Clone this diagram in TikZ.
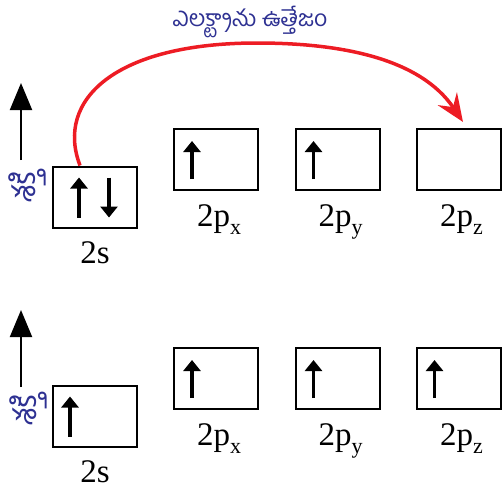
\documentclass[tikz,border=0pt]{standalone}
\usepackage{fontspec}
\setmainfont{Liberation Serif}
\newfontfamily\telugu[Script=Telugu]{Hind Guntur}
\usetikzlibrary{positioning,arrows.meta}
\definecolor{titleblue}{RGB}{46,49,146}
\definecolor{excitered}{RGB}{237,28,36}
\newcommand{\psub}[1]{2p\raisebox{-8pt}{\fontsize{22}{22}\selectfont #1}}

\begin{document}
\begin{tikzpicture}[x=1pt,y=-1pt,
    orbital/.style={draw, line width=2pt, minimum width=84pt, minimum height=61pt, inner sep=0pt},
    lbl/.style={font=\fontsize{33}{33}\selectfont, inner sep=0pt},
    spin/.style={line width=3.3pt, -{Triangle[length=11pt,width=17pt]}},
    energy/.style={line width=2pt, -{Triangle[length=27pt,width=22pt]}},
    tel/.style={text=titleblue, font=\telugu\fontsize{23}{23}\selectfont, inner sep=0pt},
    vtel/.style={tel, rotate=90, font=\telugu\fontsize{31}{31}\selectfont},
    excite/.style={excitered, line width=3.5pt, -{Stealth[length=28pt,width=23pt,inset=10pt]}}
]
\useasboundingbox (0,0) rectangle (502,491);

% excited state
\node[tel] (title) at (250,22) {ఎలక్ట్రాను ఉత్తేజం};
\node (s1)  [orbital] at (95,197) {};
\node (px1) [orbital] at (216,159.5) {};
\node (py1) [orbital] at (337.5,159.5) {};
\node (pz1) [orbital] at (458.5,159.5) {};
\node[lbl, below=35pt of s1.south, anchor=base]  {2s};
\node[lbl, below=35pt of px1.south, anchor=base, xshift=3pt] {\psub{x}};
\node[lbl, below=35pt of py1.south, anchor=base, xshift=3pt] {\psub{y}};
\node[lbl, below=35pt of pz1.south, anchor=base, xshift=3pt] {\psub{z}};

\draw [spin] ([xshift=-16pt,yshift=11pt]s1.south) -- ([xshift=-16pt,yshift=-12pt]s1.north);
\draw [spin] ([xshift=14pt,yshift=-12pt]s1.north) -- ([xshift=14pt,yshift=11pt]s1.south);
\draw [spin] ([xshift=-24pt,yshift=12pt]px1.south) -- ([xshift=-24pt,yshift=-13pt]px1.north);
\draw [spin] ([xshift=-24pt,yshift=12pt]py1.south) -- ([xshift=-24pt,yshift=-13pt]py1.north);

\coordinate (apex) at (257,43);
\draw [excite] ([xshift=-15pt]s1.north) .. controls (55,100) and (115,43) .. (apex)
  .. controls (340,43) and (420,58) .. ([xshift=4.5pt,yshift=6pt]pz1.north);

\coordinate (e1tail) at (21,160);
\coordinate (e1tip)  at (21,83);
\draw [energy] (e1tail) -- (e1tip);
\node[vtel] (en1) at (27,187) {శక్తి};

% ground state
\node (s2)  [orbital] at (95,416) {};
\node (px2) [orbital] at (216,378.5) {};
\node (py2) [orbital] at (337.5,378.5) {};
\node (pz2) [orbital] at (458.5,378.5) {};
\node[lbl, below=35pt of s2.south, anchor=base]  {2s};
\node[lbl, below=35pt of px2.south, anchor=base, xshift=3pt] {\psub{x}};
\node[lbl, below=35pt of py2.south, anchor=base, xshift=3pt] {\psub{y}};
\node[lbl, below=35pt of pz2.south, anchor=base, xshift=3pt] {\psub{z}};

\draw [spin] ([xshift=-25pt,yshift=11pt]s2.south) -- ([xshift=-25pt,yshift=-12pt]s2.north);
\draw [spin] ([xshift=-24pt,yshift=12pt]px2.south) -- ([xshift=-24pt,yshift=-13pt]px2.north);
\draw [spin] ([xshift=-24pt,yshift=12pt]py2.south) -- ([xshift=-24pt,yshift=-13pt]py2.north);
\draw [spin] ([xshift=-24pt,yshift=12pt]pz2.south) -- ([xshift=-24pt,yshift=-13pt]pz2.north);

\coordinate (e2tail) at (21,387);
\coordinate (e2tip)  at (21,310);
\draw [energy] (e2tail) -- (e2tip);
\node[vtel] (en2) at (28,410) {శక్తి};
\end{tikzpicture}
\end{document}
